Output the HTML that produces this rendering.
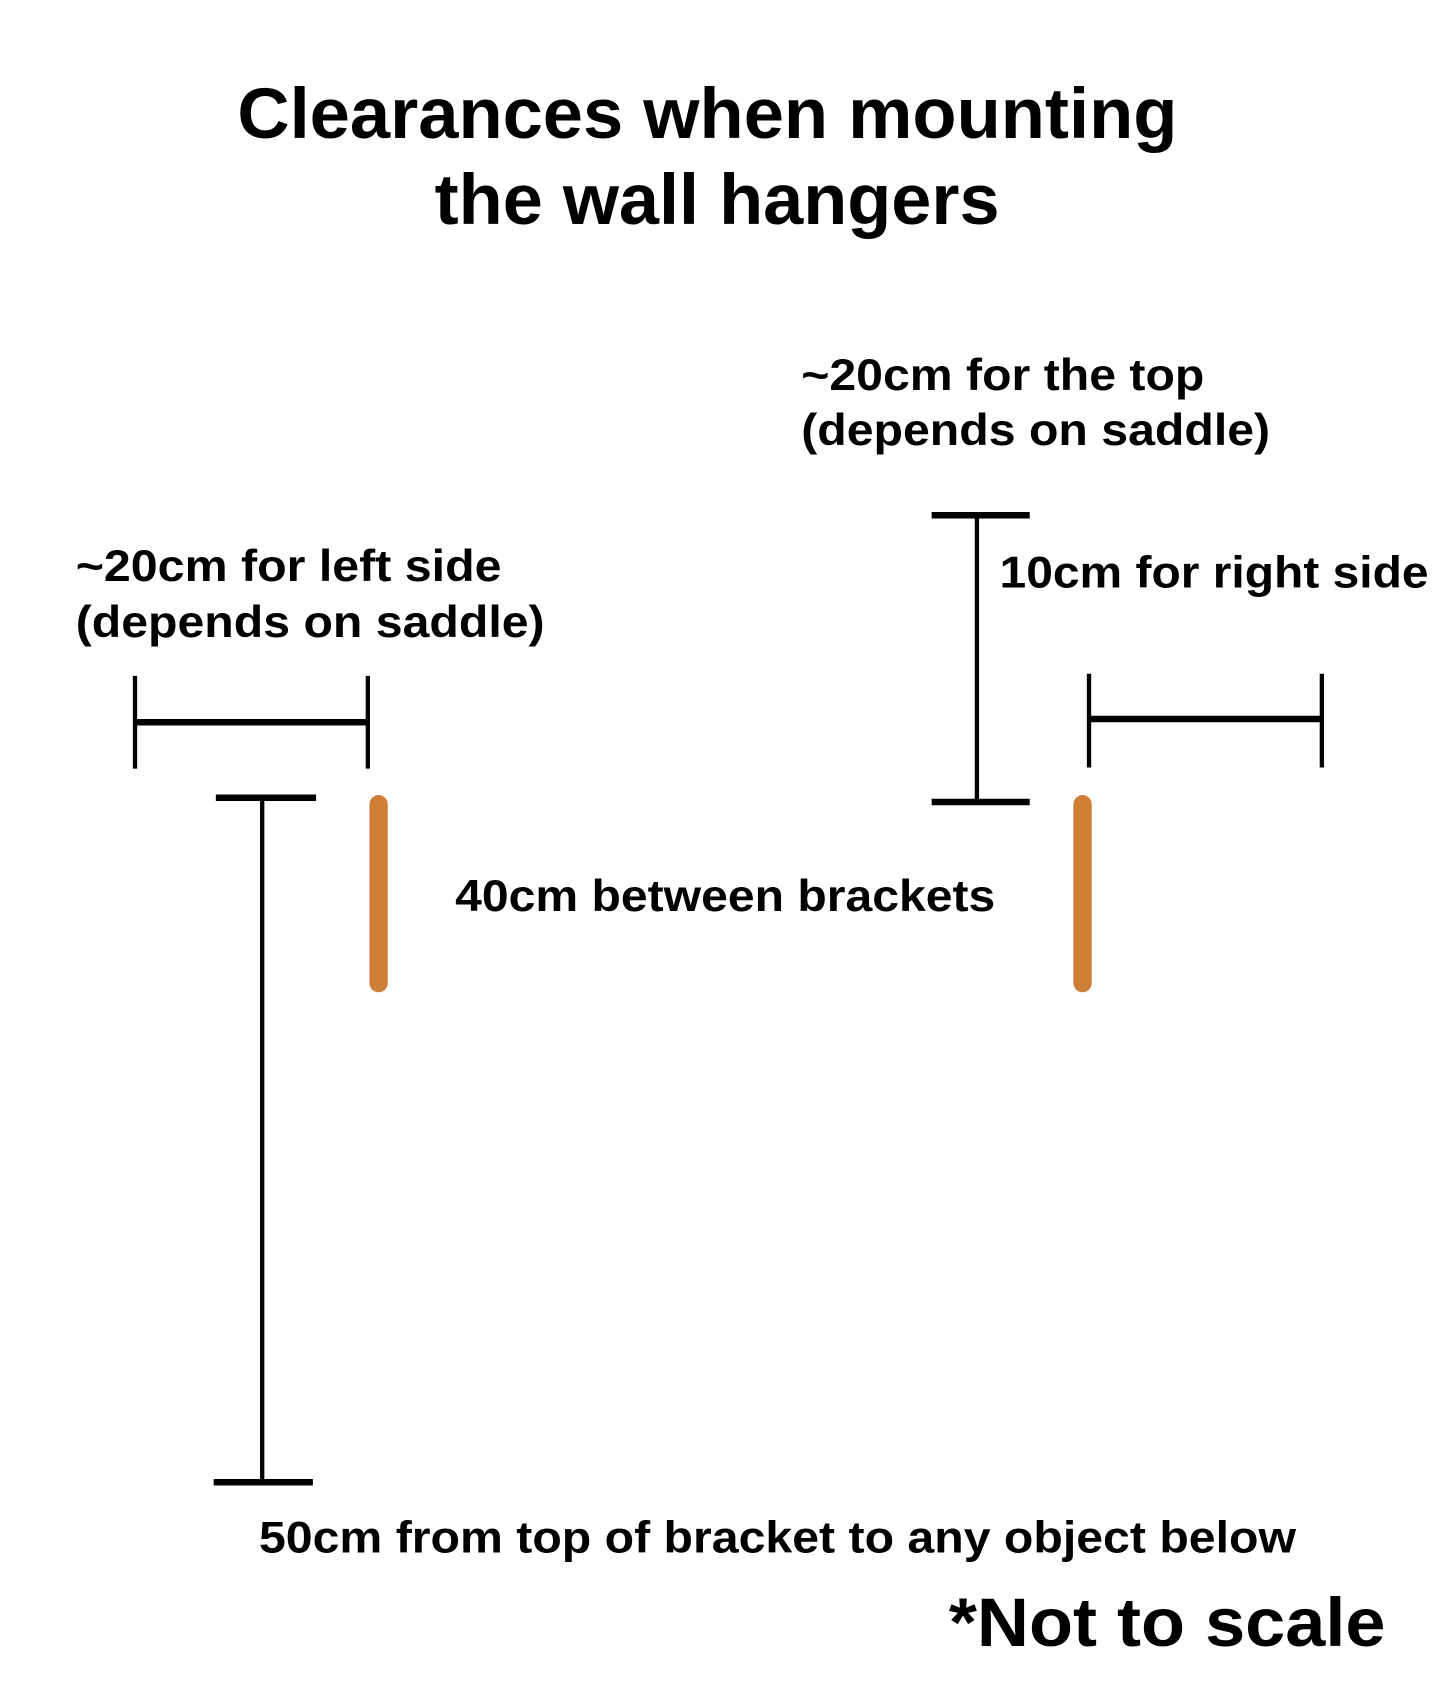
<!DOCTYPE html>
<html><head><meta charset="utf-8"><style>
html,body{margin:0;padding:0;background:#fff;}
svg{display:block;}
text{font-family:"Liberation Sans",Arial,sans-serif;font-weight:bold;fill:#000;}
</style></head><body>
<svg width="1445" height="1686" viewBox="0 0 1340 1564" xmlns="http://www.w3.org/2000/svg">
<rect width="1340" height="1564" fill="#fff"/>
<text x="220" y="128" font-size="66" textLength="872" lengthAdjust="spacingAndGlyphs">Clearances when mounting</text>
<text x="403" y="208" font-size="66" textLength="524" lengthAdjust="spacingAndGlyphs">the wall hangers</text>
<text x="743" y="362" font-size="41" textLength="374" lengthAdjust="spacingAndGlyphs">~20cm for the top</text>
<text x="743" y="413" font-size="41" textLength="435" lengthAdjust="spacingAndGlyphs">(depends on saddle)</text>
<text x="70" y="539" font-size="41" textLength="395" lengthAdjust="spacingAndGlyphs">~20cm for left side</text>
<text x="70" y="591" font-size="41" textLength="435" lengthAdjust="spacingAndGlyphs">(depends on saddle)</text>
<text x="927" y="545" font-size="41" textLength="398" lengthAdjust="spacingAndGlyphs">10cm for right side</text>
<text x="422" y="845" font-size="41" textLength="501" lengthAdjust="spacingAndGlyphs">40cm between brackets</text>
<text x="240" y="1440" font-size="41" textLength="962" lengthAdjust="spacingAndGlyphs">50cm from top of bracket to any object below</text>
<text x="880" y="1527" font-size="64" textLength="405" lengthAdjust="spacingAndGlyphs">*Not to scale</text>
<g stroke="#000" stroke-linecap="butt">
<line x1="125" y1="627" x2="125" y2="713" stroke-width="4"/>
<line x1="341" y1="627" x2="341" y2="713" stroke-width="4"/>
<line x1="125" y1="670" x2="341" y2="670" stroke-width="6"/>
<line x1="1010" y1="625" x2="1010" y2="712" stroke-width="4"/>
<line x1="1226" y1="625" x2="1226" y2="712" stroke-width="4"/>
<line x1="1010" y1="667" x2="1226" y2="667" stroke-width="6"/>
<line x1="906" y1="478" x2="906" y2="744" stroke-width="4"/>
<line x1="864" y1="478" x2="955" y2="478" stroke-width="6"/>
<line x1="864" y1="744" x2="955" y2="744" stroke-width="6"/>
<line x1="243" y1="740" x2="243" y2="1375" stroke-width="4"/>
<line x1="200" y1="740" x2="293" y2="740" stroke-width="6"/>
<line x1="198" y1="1375" x2="290" y2="1375" stroke-width="6"/>
</g>
<g stroke="#cd7f37" stroke-width="17" stroke-linecap="round">
<line x1="351" y1="746" x2="351" y2="912"/>
<line x1="1004" y1="746" x2="1004" y2="912"/>
</g>
</svg>
</body></html>
